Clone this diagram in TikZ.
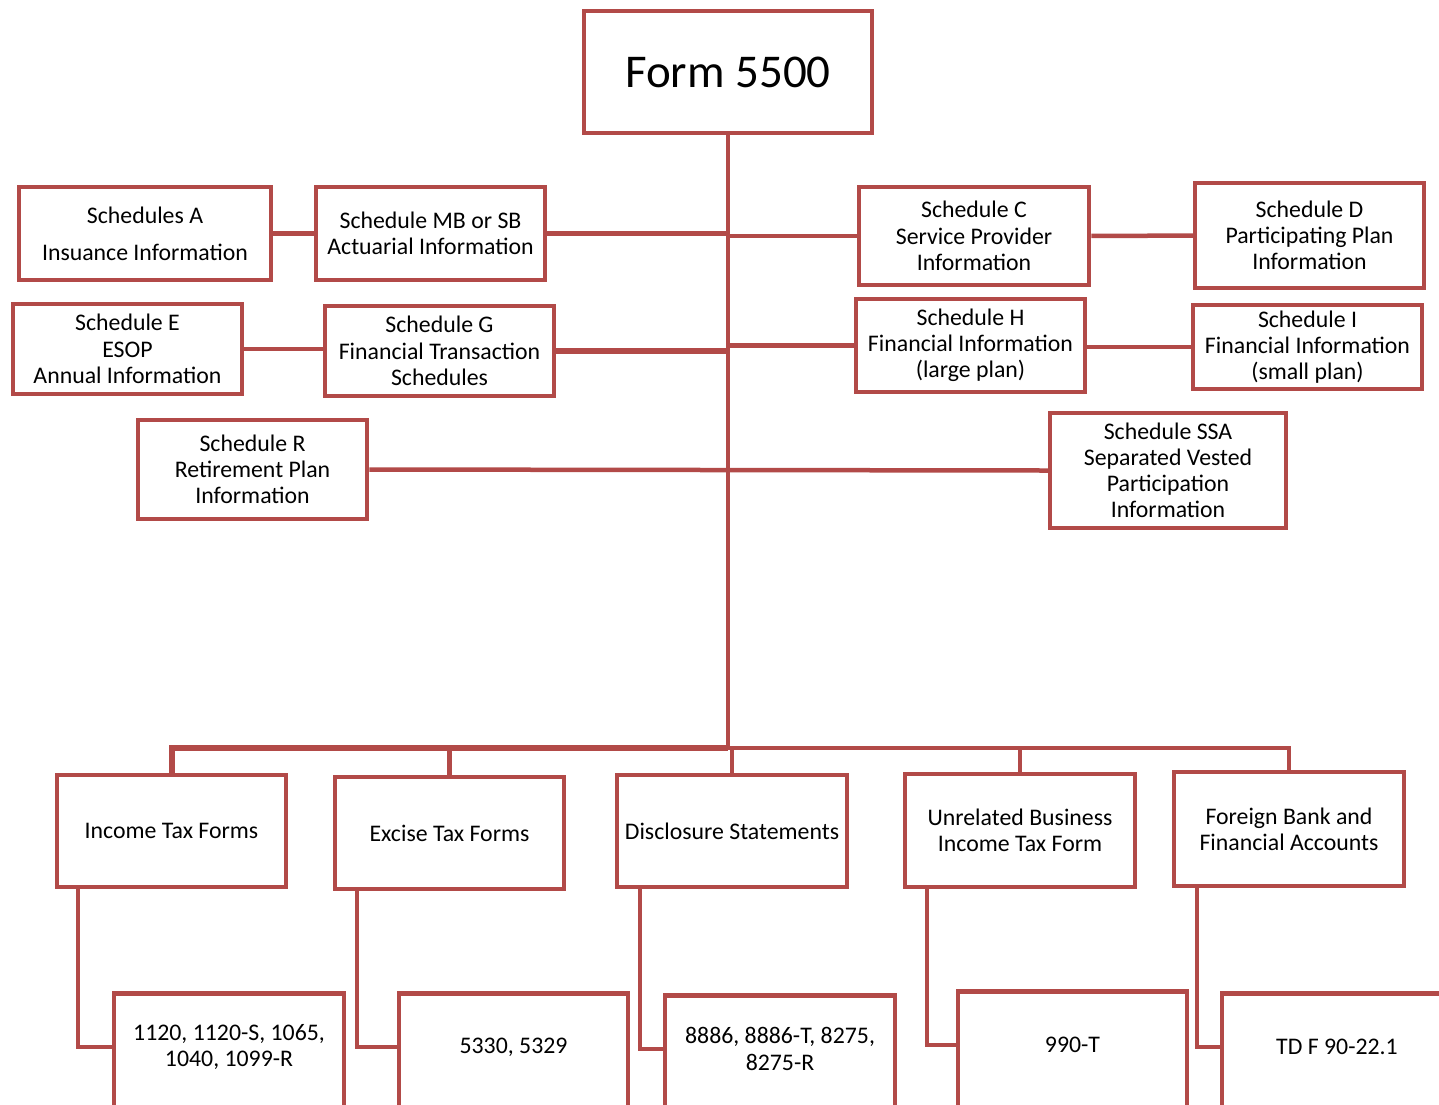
\documentclass[tikz,border=0pt]{standalone}
\usepackage{fontspec}
\setmainfont{Carlito}
\definecolor{formred}{RGB}{178,74,72}
\usepackage{tikz}
\usetikzlibrary{positioning}

\begin{document}
\begin{tikzpicture}[x=1pt,y=-1pt,
  box/.style={draw=formred,line width=4.5pt,minimum width=229pt,align=center,inner sep=2pt,
    font=\fontsize{23.8}{26.2}\selectfont},
  txt/.style={align=center,inner sep=0pt,font=\fontsize{23.8}{26.2}\selectfont},
  link/.style={draw=formred,line width=4.5pt},
  thicklink/.style={draw=formred,line width=6pt}]
  \clip (0,0) rectangle (1439,1104);
  \fill[white] (0,0) rectangle (1439,1104);
  % Main form
  \node[box,minimum width=288pt,minimum height=122pt,font=\fontsize{47}{56}\selectfont] (form) at (728,72) {Form 5500};
  % Schedules, left side
  \node[box,minimum width=252pt,minimum height=93pt] (schA) at (145,233.5) {Schedules A\\[11pt]Insuance Information};
  \node[box,minimum height=93pt] (schMB) at (430.5,233.5) {Schedule MB or SB\\Actuarial Information};
  \node[box,minimum height=90pt] (schE) at (127.5,349) {Schedule E\\ESOP\\Annual Information};
  \node[box,minimum height=90pt] (schG) at (439.5,351) {Schedule G\\Financial Transaction\\Schedules};
  \node[box,minimum height=99pt] (schR) at (252.5,469.5) {Schedule R\\Retirement Plan\\Information};
  % Schedules, right side
  \node[box,minimum width=230pt,minimum height=98pt] (schC) at (974,236) {Schedule C\\Service Provider\\Information};
  \node[box,minimum height=105pt] (schD) at (1309.5,235.5) {Schedule D\\Participating Plan\\Information};
  \node[box,minimum height=93pt] (schH) at (970.5,345.5) {Schedule H\\Financial Information\\(large plan)};
  \node[box,minimum height=84pt] (schI) at (1307.5,347) {Schedule I\\Financial Information\\(small plan)};
  \node[box,minimum width=236pt,minimum height=115pt] (schSSA) at (1168,470.5) {Schedule SSA\\Separated Vested\\Participation\\Information};
  % Related forms
  \node[box,minimum height=112pt] (income) at (171.5,831) {Income Tax Forms};
  \node[box,minimum height=112pt] (excise) at (449.5,833) {Excise Tax Forms};
  \node[box,minimum width=230pt,minimum height=112pt] (disc) at (732,831) {Disclosure Statements};
  \node[box,minimum width=230pt,minimum height=113pt] (ubit) at (1020,830.5) {Unrelated Business\\Income Tax Form};
  \node[box,minimum width=230pt,minimum height=114pt] (fbar) at (1289,829) {Foreign Bank and\\Financial Accounts};
  % Form numbers (boxes run off the page)
  \node[box,minimum width=230pt,minimum height=160pt,anchor=north] (sub1) at (229,991) {};
  \node[txt] (sub1t) at (229,1047) {1120, 1120-S, 1065,\\1040, 1099-R};
  \node[box,minimum height=160pt,anchor=north] (sub2) at (513.5,991) {};
  \node[txt] (sub2t) at (513.5,1047) {5330, 5329};
  \node[box,minimum width=230pt,minimum height=160pt,anchor=north] (sub3) at (780,993) {};
  \node[txt] (sub3t) at (780,1049) {8886, 8886-T, 8275,\\8275-R};
  \node[box,minimum height=160pt,anchor=north] (sub4) at (1072.5,989) {};
  \node[txt] (sub4t) at (1072.5,1045) {990-T};
  \node[box,minimum width=230pt,minimum height=160pt,anchor=north] (sub5) at (1337,991) {};
  \node[txt] (sub5t) at (1337,1047) {TD F 90-22.1};
  % Trunk and bus
  \coordinate (bus) at (728,748);
  \draw[link] (form.south) -- (bus);
  \draw[thicklink] (income.north) |- (bus);
  \draw[link] (bus) -| (fbar.north);
  \draw[link] (excise.north) -- (excise.north |- bus);
  \draw[link] (disc.north) -- (disc.north |- bus);
  \draw[link] (ubit.north) -- (ubit.north |- bus);
  % Schedule connectors
  \draw[link] (schA) -- (schMB);
  \draw[link] (schMB.east) -- (schMB.east -| form.south);
  \draw[link] (schC.west) -- (schC.west -| form.south);
  \draw[link] (schC) -- (schD);
  \draw[link] (schE.east) -- (schE.east -| schG.west);
  \draw[thicklink] (schG.east) -- (schG.east -| form.south);
  \draw[link] (schH.west) -- (schH.west -| form.south);
  \draw[link] (schI.west -| schH.east) -- (schI.west);
  \draw[link] (schR.east) -- (schSSA.west);
  % Elbows down to form numbers
  \draw[link] ([xshift=23pt]income.south west) |- (sub1t -| sub1.west);
  \draw[link] ([xshift=24pt]excise.south west) |- (sub2t -| sub2.west);
  \draw[link] ([xshift=25pt]disc.south west) |- (sub3t -| sub3.west);
  \draw[link] ([xshift=24pt]ubit.south west) |- (sub4t -| sub4.west);
  \draw[link] ([xshift=25pt]fbar.south west) |- (sub5t -| sub5.west);
\end{tikzpicture}
\end{document}
